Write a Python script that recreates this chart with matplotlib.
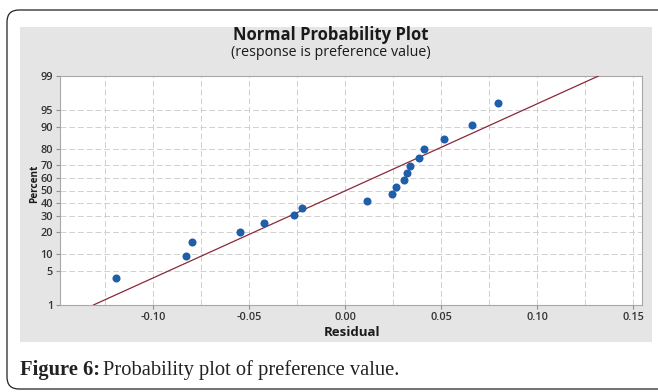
import matplotlib
matplotlib.use("Agg")
import matplotlib.pyplot as plt
from matplotlib.patches import Rectangle, FancyBboxPatch
from matplotlib.ticker import FixedLocator, NullLocator
from statistics import NormalDist
import numpy as np

# residuals (sorted) and their plotted percents
residual = [-0.1194, -0.0828, -0.0797, -0.0547, -0.0423, -0.0264, -0.0222,
            0.0113, 0.0246, 0.0266, 0.0307, 0.0321, 0.0339, 0.0387, 0.0411,
            0.0517, 0.0663, 0.0795]
percent = [3.8, 9.2, 14.7, 20.1, 25.5, 31.0, 36.4, 41.8, 47.3, 52.7, 58.2,
           63.6, 69.0, 74.5, 79.9, 85.3, 90.8, 96.2]

# fitted line end points
fit_residual = [-0.131, 0.132]
fit_percent = [1, 99]

y_ticks = [1, 5, 10, 20, 30, 40, 50, 60, 70, 80, 90, 95, 99]
x_ticks = [-0.10, -0.05, 0.00, 0.05, 0.10, 0.15]
x_grid = [-0.125, -0.075, -0.025, 0.025, 0.075, 0.125]

nd = NormalDist()
_ppf = np.vectorize(lambda p: nd.inv_cdf(p), otypes=[float])
_cdf = np.vectorize(lambda z: nd.cdf(z), otypes=[float])


def fwd(p):
    p = np.clip(np.asarray(p, dtype=float), 1e-6, 100 - 1e-6)
    return _ppf(p / 100.0)


def inv(z):
    return _cdf(np.asarray(z, dtype=float)) * 100.0


fig = plt.figure(figsize=(6.58, 3.92), dpi=100)
fig.patch.set_facecolor('white')

# outer rounded frame
frame = FancyBboxPatch((0.07, 0.03), 6.8, 3.79, boxstyle="round,pad=0,rounding_size=0.12",
                       transform=fig.dpi_scale_trans, facecolor='none', edgecolor='#222222',
                       linewidth=0.9, zorder=-2)
fig.patches.append(frame)

# grey minitab panel
panel = Rectangle((20 / 658, 1 - 342 / 392), 632 / 658, 315 / 392, transform=fig.transFigure,
                  facecolor='#e5e5e5', edgecolor='none', zorder=-1)
fig.patches.append(panel)

ax = fig.add_axes([60 / 658, 1 - 305 / 392, 581.7 / 658, 229 / 392])
ax.set_facecolor('white')
ax.set_yscale('function', functions=(fwd, inv))
ax.set_ylim(1, 99)
ax.set_xlim(-0.1484, 0.1545)

ax.yaxis.set_major_locator(FixedLocator(y_ticks))
ax.yaxis.set_minor_locator(NullLocator())
ax.set_yticklabels([str(t) for t in y_ticks])
ax.xaxis.set_major_locator(FixedLocator(x_ticks))
ax.xaxis.set_minor_locator(FixedLocator(x_grid))
ax.set_xticklabels(['%.2f' % t for t in x_ticks])

ax.grid(True, which='both', axis='x', linestyle=(0, (6, 3)), color='#d0d0d0', linewidth=0.7)
ax.grid(True, which='major', axis='y', linestyle=(0, (6, 3)), color='#d0d0d0', linewidth=0.7)
ax.set_axisbelow(True)

for s in ax.spines.values():
    s.set_color('#a8a8a8')
    s.set_linewidth(0.8)
ax.tick_params(axis='both', which='major', length=3, color='#909090', labelsize=7.8,
               labelcolor='#333333', pad=2)
ax.tick_params(axis='x', which='minor', length=0)
for lab in ax.get_xticklabels() + ax.get_yticklabels():
    lab.set_fontfamily('Open Sans')
    lab.set_fontweight('semibold')

ax.plot(fit_residual, fit_percent, '-', color='#8b2838', linewidth=0.9, zorder=3)
ax.plot(residual, percent, 'o', color='#1f5ea8', markersize=5.8, markeredgewidth=0, zorder=4)

fig.text(331 / 658, 1 - 35 / 392, 'Normal Probability Plot', ha='center', va='center',
         fontsize=12, fontweight='bold', family='Open Sans', color='#1a1a1a')
fig.text(331 / 658, 1 - 53 / 392, '(response is preference value)', ha='center', va='center',
         fontsize=10.3, family='Open Sans', color='#1a1a1a')
fig.text(352 / 658, 1 - 332 / 392, 'Residual', ha='center', va='center',
         fontsize=9.5, fontweight='bold', family='Open Sans', color='#1a1a1a')
fig.text(35 / 658, 1 - 184 / 392, 'Percent', ha='center', va='center', rotation=90,
         fontsize=7.2, fontweight='bold', family='Open Sans', color='#1a1a1a')

# caption
t1 = fig.text(20 / 658, 1 - 375 / 392, 'Figure 6:', ha='left', va='baseline',
              fontsize=14.8, fontweight='bold', family='Liberation Serif', color='#222222')
fig.canvas.draw()
bb = t1.get_window_extent()
fig.text((bb.x1 + 3) / 658, 1 - 375 / 392, 'Probability plot of preference value.', ha='left',
         va='baseline', fontsize=14.8, family='Liberation Serif', color='#222222')

fig.savefig('out.png', dpi=100)
